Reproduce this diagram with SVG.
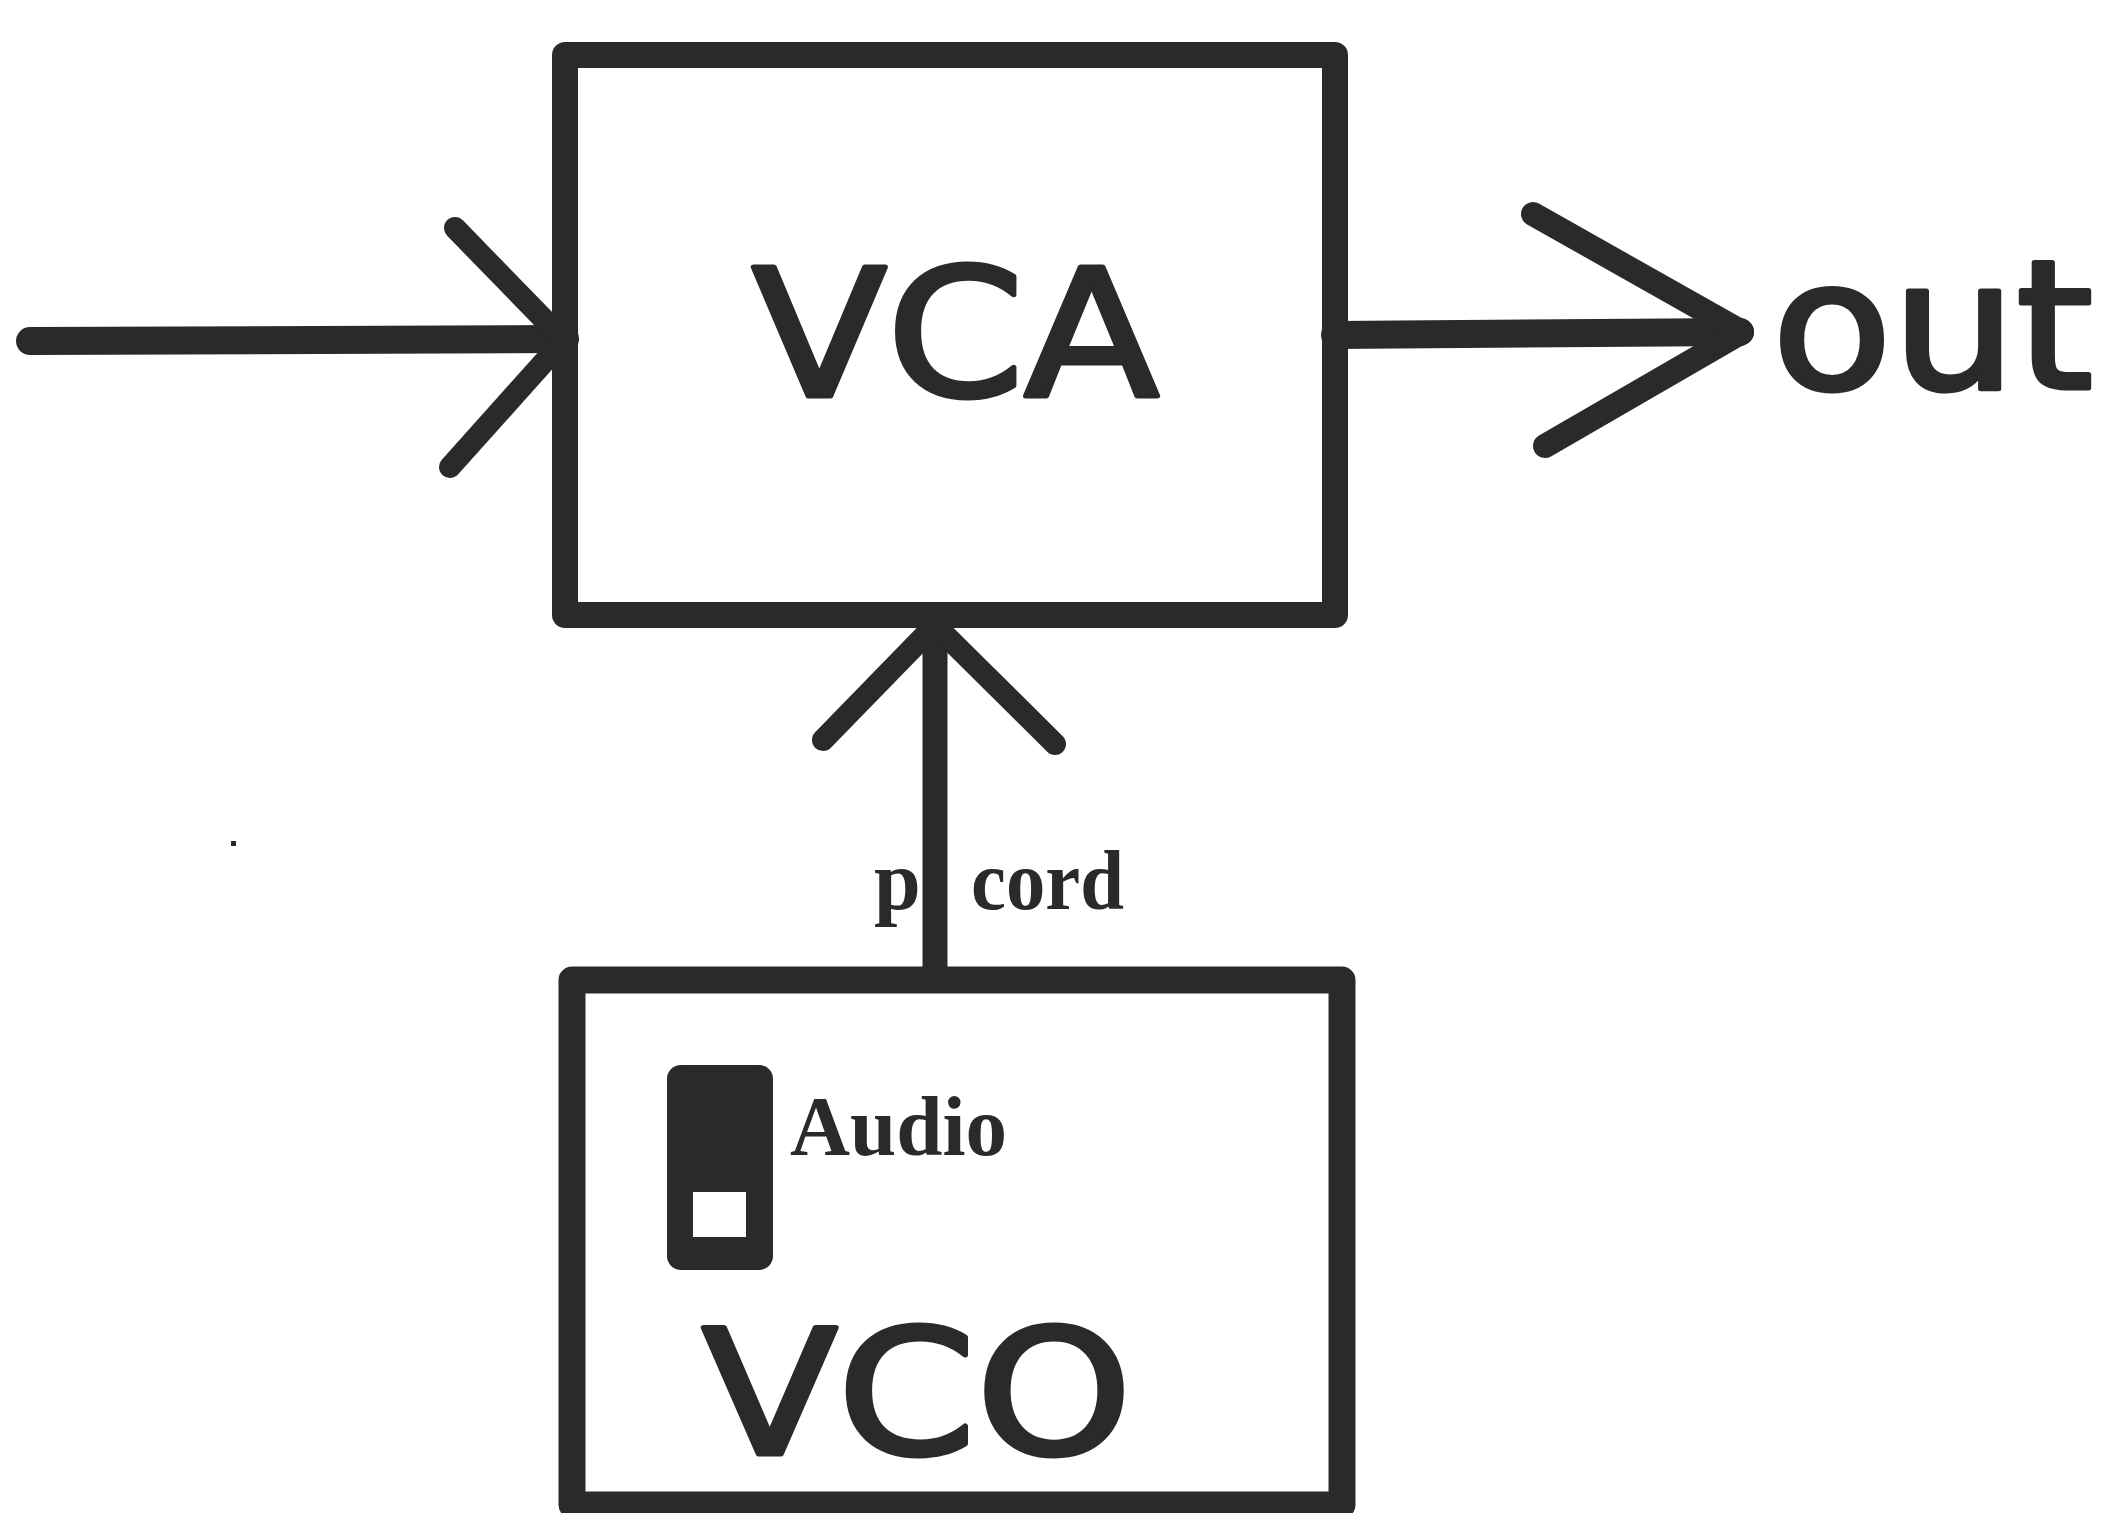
<svg xmlns="http://www.w3.org/2000/svg" width="2109" height="1513" viewBox="0 0 2109 1513">
<style>
.box{fill:none;stroke:#2a2a2a;stroke-linejoin:round}
.ln{fill:none;stroke:#2a2a2a;stroke-linecap:round;stroke-linejoin:round}
.big{font-family:"DejaVu Sans","Open Sans",sans-serif;fill:#2a2a2a;stroke:#2a2a2a;stroke-width:5;stroke-linejoin:round}
.ser{font-family:"Liberation Serif","Times New Roman",serif;fill:#2a2a2a}
</style>
<rect width="2109" height="1513" fill="#ffffff"/>
<g id="connectors">
  <g id="input-arrow">
    <path class="ln" d="M30 341 L565 339" stroke-width="28"/>
    <path class="ln" d="M455 228 L562 338 M450 467 L562 342" stroke-width="22"/>
  </g>
  <g id="output-arrow">
    <path class="ln" d="M1335 335 L1740 332" stroke-width="28"/>
    <path class="ln" d="M1533 214 L1742 332 L1545 446" stroke-width="24"/>
  </g>
  <g id="patch-cord">
    <path class="ln" d="M935 980 L935 615" stroke-width="25"/>
    <path class="ln" d="M823 740 L935 625 L1055 744" stroke-width="22"/>
    <text class="ser" x="874" y="909" font-size="84" font-weight="bold">p</text>
    <text class="ser" x="971" y="909" font-size="84" font-weight="bold" textLength="153" lengthAdjust="spacingAndGlyphs">cord</text>
  </g>
</g>
<g id="vca">
  <rect class="box" x="565" y="55" width="770" height="560" stroke-width="26"/>
  <text class="big" x="752" y="396" font-size="176" textLength="407" lengthAdjust="spacingAndGlyphs">VCA</text>
</g>
<g id="out-label">
  <text class="big" x="1772" y="388" font-size="178" textLength="321" lengthAdjust="spacingAndGlyphs">out</text>
</g>
<g id="vco">
  <rect class="box" x="572" y="980" width="770" height="525" stroke-width="27"/>
  <g id="switch">
    <rect x="667" y="1065" width="106" height="205" rx="14" fill="#2a2a2a"/>
    <rect x="693" y="1192" width="53" height="45" fill="#ffffff"/>
  </g>
  <text class="ser" x="790" y="1155" font-size="84" font-weight="bold" textLength="217" lengthAdjust="spacingAndGlyphs">Audio</text>
  <text class="big" x="702" y="1454" font-size="173" textLength="430" lengthAdjust="spacingAndGlyphs">VCO</text>
</g>
<rect x="231" y="841" width="5" height="5" fill="#2a2a2a"/>
</svg>
